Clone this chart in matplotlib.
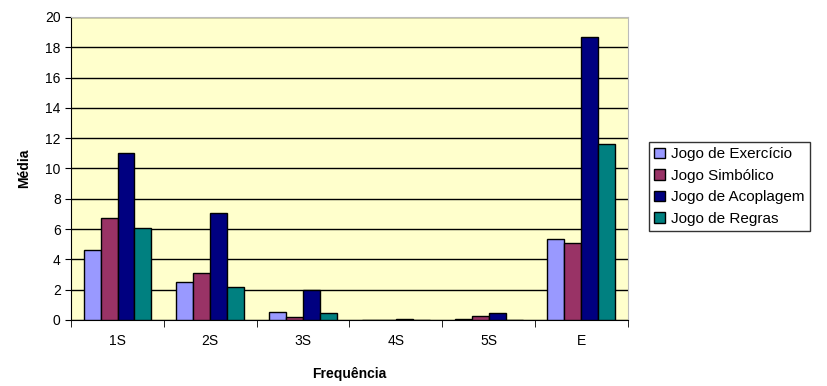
import matplotlib.pyplot as plt
import numpy as np

plt.rcParams['font.family'] = ['Liberation Sans', 'DejaVu Sans']

categorias = ['1S', '2S', '3S', '4S', '5S', 'E']
exercicio = [4.65, 2.5, 0.55, 0.0, 0.05, 5.37]
simbolico = [6.75, 3.07, 0.18, 0.0, 0.27, 5.08]
acoplagem = [11.0, 7.03, 2.0, 0.05, 0.46, 18.65]
regras = [6.1, 2.15, 0.46, 0.0, 0.0, 11.6]

series = [('Jogo de Exercício', exercicio, '#9999FF'),
          ('Jogo Simbólico', simbolico, '#993366'),
          ('Jogo de Acoplagem', acoplagem, '#000080'),
          ('Jogo de Regras', regras, '#008080')]

fig = plt.figure(figsize=(8.27, 3.86), dpi=100)
ax = fig.add_axes([0.086, 0.171, 0.673, 0.785])
ax.set_facecolor('#FFFFCC')

x = np.arange(len(categorias))
w = 0.183
for i, (nome, vals, cor) in enumerate(series):
    ax.bar(x + (i - 1.5) * w, vals, w, color=cor, edgecolor='black',
           linewidth=1, label=nome, zorder=3)

ax.set_xlim(-0.5, len(categorias) - 0.5)
ax.set_ylim(0, 20)
ax.set_yticks(range(0, 21, 2))
ax.yaxis.grid(True, color='black', linewidth=1, zorder=0)
ax.set_xticks(x)
ax.set_xticklabels(categorias, fontsize=10)
ax.set_xticks(np.arange(-0.5, len(categorias)), minor=True)
ax.tick_params(axis='x', which='major', length=0, pad=10)
ax.tick_params(axis='x', which='minor', length=5, direction='out')
ax.tick_params(axis='y', labelsize=10, length=4)
for s in ['top', 'right']:
    ax.spines[s].set_color('#BBBBBB')
ax.set_xlabel('Frequência', fontsize=10, fontweight='bold', labelpad=14)
ax.set_ylabel('Média', fontsize=10, fontweight='bold', labelpad=10)

leg = ax.legend(loc='center left', bbox_to_anchor=(1.038, 0.44), fontsize=11,
                frameon=True, fancybox=False, edgecolor='black',
                handlelength=0.7, handleheight=0.7, handletextpad=0.4,
                borderpad=0.35, labelspacing=0.5, borderaxespad=0)
leg.get_frame().set_linewidth(1)

fig.savefig('out.png', dpi=100)
